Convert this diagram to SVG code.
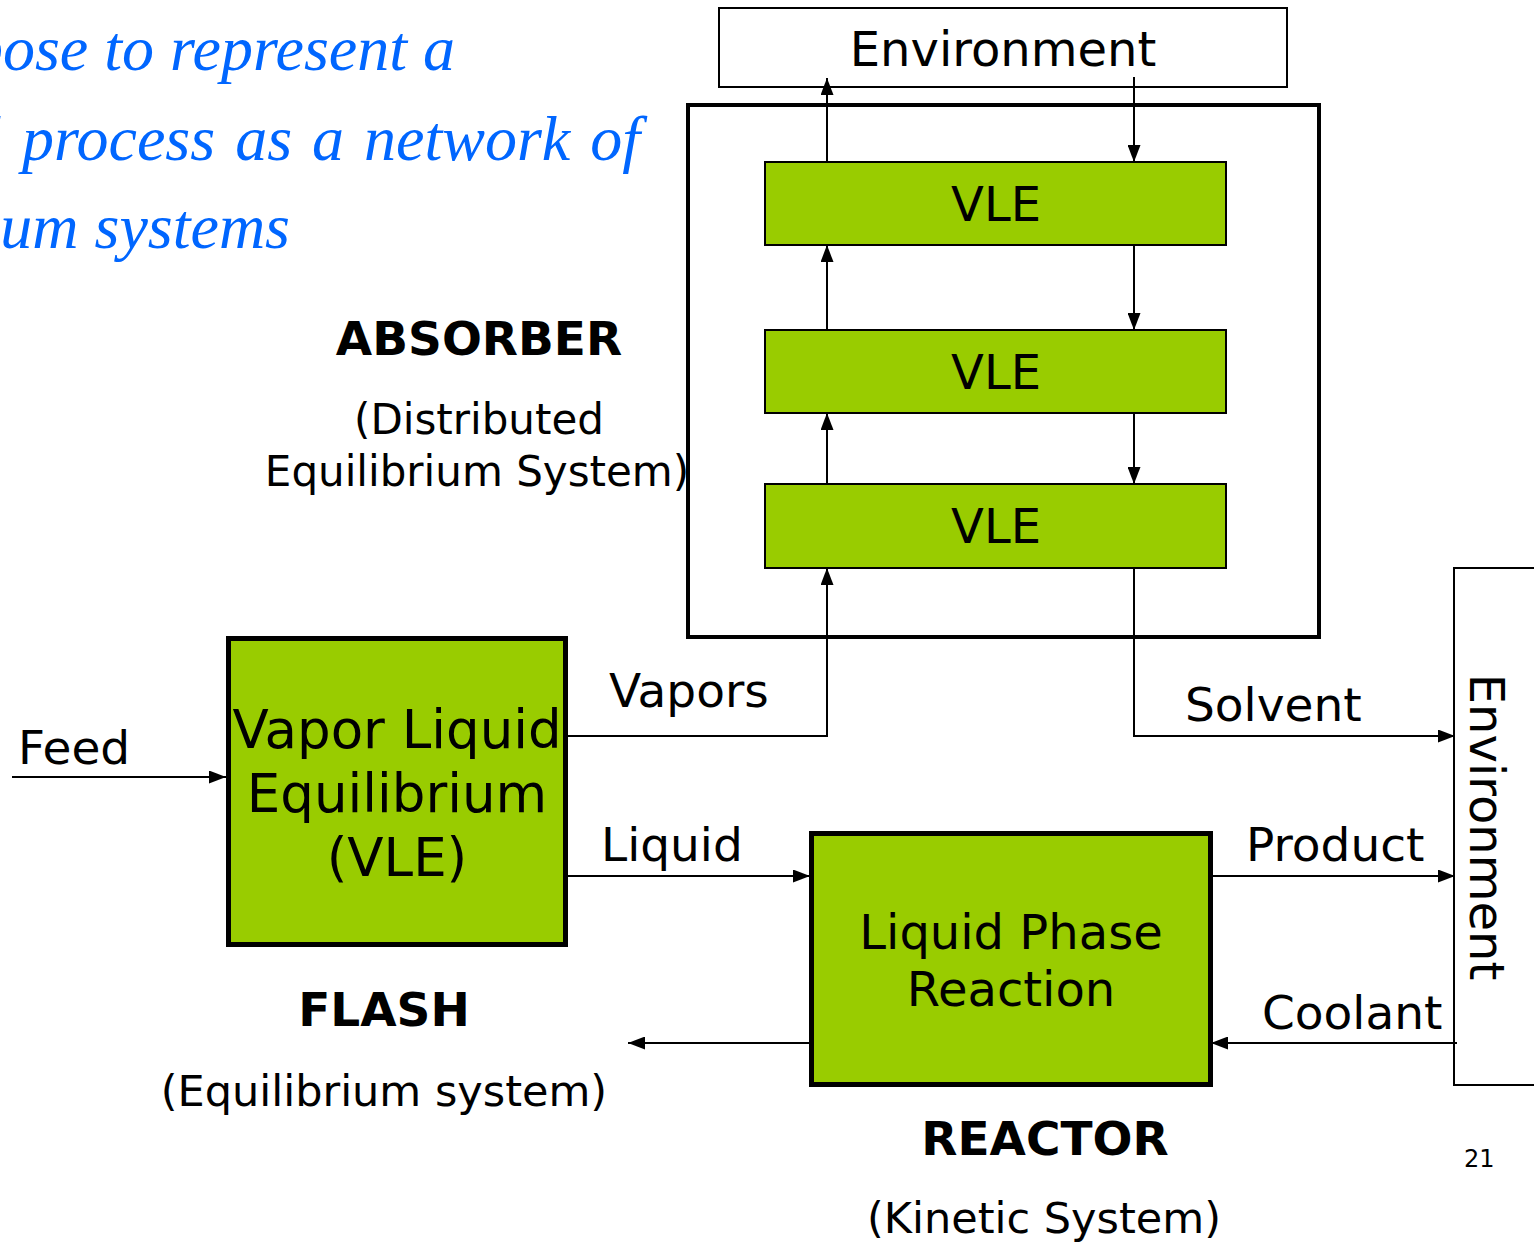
<svg xmlns="http://www.w3.org/2000/svg" width="1534" height="1242" viewBox="0 0 1534 1242">
<defs>
<style>
.t{font-family:"DejaVu Sans",Verdana,sans-serif;fill:#000}
.lab{font-size:47px}
.vle{font-size:48px;text-anchor:middle}
.big{font-size:53px;text-anchor:middle}
.bold{font-size:47px;font-weight:bold;text-anchor:middle}
.sub{font-size:43px;text-anchor:middle}
.it{font-family:"Liberation Serif","Times New Roman",serif;font-style:italic;font-size:64px;fill:#0066FF;text-anchor:end}
.g{fill:#99CC00;stroke:#000;stroke-width:2}
.gb{fill:#99CC00;stroke:#000;stroke-width:5}
.w{fill:#fff;stroke:#000;stroke-width:2}
.c{fill:none;stroke:#000;stroke-width:2}
</style>
<marker id="ah" markerUnits="userSpaceOnUse" markerWidth="17" markerHeight="13" viewBox="0 0 17 13" refX="17" refY="6.5" orient="auto">
<path d="M0,0 L17,6.5 L0,13 Z" fill="#000"/>
</marker>
</defs>
<rect width="1534" height="1242" fill="#fff"/>

<g id="title">
<text class="it" x="455" y="70">pose to represent a</text>
<text class="it" x="640" y="160" style="word-spacing:4px">l process as a network of</text>
<text class="it" x="290" y="248">um systems</text>
</g>

<g id="absorber-frame"><rect x="688" y="105" width="631" height="532" fill="none" stroke="#000" stroke-width="4"/></g>

<g id="env-top">
<rect class="w" x="719" y="8" width="568" height="79"/>
<text class="t vle" x="1003" y="66">Environment</text>
</g>

<g id="env-right">
<rect class="w" x="1454" y="568" width="100" height="517"/>
<text class="t vle" transform="translate(1470,827) rotate(90)" x="0" y="0">Environment</text>
</g>

<g id="vle1"><rect class="g" x="765" y="162" width="461" height="83"/><text class="t vle" x="996" y="221">VLE</text></g>
<g id="vle2"><rect class="g" x="765" y="330" width="461" height="83"/><text class="t vle" x="996" y="389">VLE</text></g>
<g id="vle3"><rect class="g" x="765" y="484" width="461" height="84"/><text class="t vle" x="996" y="543">VLE</text></g>

<g id="flash">
<rect class="gb" x="228.5" y="638.5" width="337" height="306"/>
<text class="t big" x="397" y="748">Vapor Liquid</text>
<text class="t big" x="397" y="812">Equilibrium</text>
<text class="t big" x="397" y="876">(VLE)</text>
</g>

<g id="reactor">
<rect class="gb" x="811.5" y="833.5" width="399" height="251"/>
<text class="t vle" x="1011" y="949">Liquid Phase</text>
<text class="t vle" x="1011" y="1006">Reaction</text>
</g>

<g id="connectors">
<path class="c" d="M12,777 H226" marker-end="url(#ah)"/>
<path class="c" d="M566,736 H827 V568" marker-end="url(#ah)"/>
<path class="c" d="M827,484 V413" marker-end="url(#ah)"/>
<path class="c" d="M827,330 V245" marker-end="url(#ah)"/>
<path class="c" d="M827,162 V78" marker-end="url(#ah)"/>
<path class="c" d="M1134,77 V162" marker-end="url(#ah)"/>
<path class="c" d="M1134,245 V330" marker-end="url(#ah)"/>
<path class="c" d="M1134,413 V484" marker-end="url(#ah)"/>
<path class="c" d="M1134,568 V736 H1455" marker-end="url(#ah)"/>
<path class="c" d="M566,876 H810" marker-end="url(#ah)"/>
<path class="c" d="M1211,876 H1455" marker-end="url(#ah)"/>
<path class="c" d="M1457,1043 H1211" marker-end="url(#ah)"/>
<path class="c" d="M810,1043 H628" marker-end="url(#ah)"/>
</g>

<g id="labels">
<text class="t lab" x="18" y="764">Feed</text>
<text class="t lab" x="609" y="707">Vapors</text>
<text class="t lab" x="601" y="861">Liquid</text>
<text class="t lab" x="1185" y="721">Solvent</text>
<text class="t lab" x="1246" y="861">Product</text>
<text class="t lab" x="1262" y="1029">Coolant</text>
<text class="t bold" x="479" y="355">ABSORBER</text>
<text class="t sub" x="479" y="434" style="font-size:42px">(Distributed</text>
<text class="t sub" x="477" y="486" style="font-size:42px">Equilibrium System)</text>
<text class="t bold" x="384" y="1026">FLASH</text>
<text class="t sub" x="384" y="1106">(Equilibrium system)</text>
<text class="t bold" x="1045" y="1155">REACTOR</text>
<text class="t sub" x="1044" y="1233">(Kinetic System)</text>
<text class="t" x="1464" y="1167" style="font-size:24px">21</text>
</g>
</svg>
